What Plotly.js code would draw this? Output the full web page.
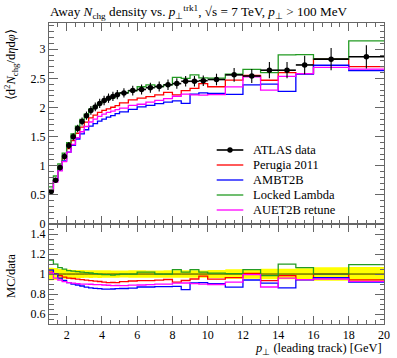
<!DOCTYPE html>
<html><head><meta charset="utf-8">
<script src="https://cdn.plot.ly/plotly-3.0.1.min.js"></script>
<style>html,body{margin:0;padding:0;background:#fff;} #plot{width:397px;height:358px;}</style>
</head><body><div id="plot"></div>
<script>
// Bin edges (GeV) of leading-track pT
const binEdges = [1,1.25,1.5,1.75,2,2.25,2.5,2.75,3,3.25,3.5,3.75,4,4.25,4.5,4.75,5,
  5.5,6,6.5,7,7.5,8,8.5,9,9.5,10,11,12,13,14,15,16,18,20];
// ATLAS data
const atlasData = [0.56,0.75,0.97,1.16,1.35,1.50,1.64,1.76,1.86,1.95,2.01,2.07,2.12,2.16,2.19,2.22,
  2.25,2.29,2.31,2.34,2.36,2.39,2.41,2.45,2.45,2.46,2.48,2.56,2.54,2.64,2.64,2.73,2.83,2.87];
const atlasErr = [0.035,0.045,0.05,0.055,0.06,0.06,0.065,0.07,0.07,0.075,0.075,0.08,0.08,0.08,0.08,0.08,
  0.08,0.085,0.085,0.085,0.085,0.09,0.09,0.09,0.09,0.09,0.1,0.12,0.12,0.14,0.14,0.16,0.19,0.2];
// MC predictions
const perugia2011 = [0.571,0.75,0.955,1.125,1.296,1.433,1.558,1.663,1.748,1.823,1.869,1.915,1.950,1.976,2.004,2.031,
  2.081,2.130,2.160,2.188,2.218,2.259,2.217,2.291,2.328,2.411,2.356,2.470,2.553,2.468,2.60,2.580,2.83,2.70];
const ambt2b = [0.582,0.75,0.931,1.085,1.235,1.35,1.460,1.549,1.618,1.681,1.723,1.766,1.802,1.836,1.862,1.894,
  1.924,1.969,2.010,2.036,2.065,2.091,2.114,2.070,2.230,2.251,2.244,2.227,2.388,2.402,2.276,2.572,2.725,2.635];
const lockedLambda = [0.638,0.825,1.033,1.218,1.397,1.545,1.681,1.795,1.888,1.970,2.020,2.070,2.109,2.149,2.168,2.209,
  2.25,2.29,2.356,2.387,2.36,2.39,2.518,2.499,2.560,2.509,2.505,2.573,2.654,2.600,2.904,2.907,2.83,3.143];
const auet2bRetune = [0.566,0.72,0.912,1.073,1.235,1.365,1.484,1.584,1.674,1.751,1.799,1.849,1.887,1.918,1.938,1.965,
  1.991,2.038,2.056,2.094,2.124,2.151,2.193,2.230,2.217,2.214,2.220,2.355,2.527,2.297,2.534,2.580,2.689,2.660];
const seriesNames = ['ATLAS data','Perugia 2011','AMBT2B','Locked Lambda','AUET2B retune'];
const seriesColors = ['#000000','#ff0000','#0000ff','#239b23','#ff00ff'];
const yTicksMain = [0,0.5,1,1.5,2,2.5,3];
const yTicksRatio = [0.6,0.8,1,1.2,1.4];
const xTicks = [2,4,6,8,10,12,14,16,18,20];

const FONT = 'Liberation Serif, Times New Roman, serif';
const centers = atlasData.map((_, i) => (binEdges[i] + binEdges[i+1]) / 2);
const halfW = atlasData.map((_, i) => (binEdges[i+1] - binEdges[i]) / 2);
const stepY = v => v.concat([v[v.length-1]]);
const mcSets = [perugia2011, ambt2b, lockedLambda, auet2bRetune];

const traces = [];
// main panel MC
mcSets.forEach((mc, k) => {
  traces.push({x: binEdges, y: stepY(mc), xaxis:'x', yaxis:'y', mode:'lines',
    line:{shape:'hv', color: seriesColors[k+1], width:1.3}, name: seriesNames[k+1], showlegend:false, hoverinfo:'skip'});
});
// data
traces.push({x: centers, y: atlasData, xaxis:'x', yaxis:'y', mode:'markers',
  marker:{color:'#000', size:5.5},
  error_y:{type:'data', array: atlasErr, color:'#000', thickness:1.1, width:0},
  error_x:{type:'data', array: halfW, color:'#000', thickness:1.6, width:0},
  showlegend:false, hoverinfo:'skip'});
// ratio band
const lo = atlasData.map((d, i) => 1 - atlasErr[i]/d);
const hi = atlasData.map((d, i) => 1 + atlasErr[i]/d);
traces.push({x: binEdges, y: stepY(lo), xaxis:'x2', yaxis:'y2', mode:'lines', line:{shape:'hv', width:0, color:'rgba(0,0,0,0)'}, showlegend:false, hoverinfo:'skip'});
traces.push({x: binEdges, y: stepY(hi), xaxis:'x2', yaxis:'y2', mode:'lines', fill:'tonexty', fillcolor:'#ffff00', line:{shape:'hv', width:0, color:'rgba(0,0,0,0)'}, showlegend:false, hoverinfo:'skip'});
traces.push({x: binEdges, y: stepY(atlasData.map(() => 1)), xaxis:'x2', yaxis:'y2', mode:'lines', line:{shape:'hv', width:0.8, color:'#000'}, showlegend:false, hoverinfo:'skip'});
mcSets.forEach((mc, k) => {
  traces.push({x: binEdges, y: stepY(mc.map((v, i) => v / atlasData[i])), xaxis:'x2', yaxis:'y2', mode:'lines',
    line:{shape:'hv', color: seriesColors[k+1], width:1.3}, showlegend:false, hoverinfo:'skip'});
});

// hand-built legend (paper coordinates)
const PW = 335, PH = 301; // plot area size in px
const legX0 = (216.7 - 49) / PW, legX1 = (243.3 - 49) / PW, legTx = (250.5 - 49) / PW;
const legRowsPx = [150, 165, 180, 195, 210];
const shapes = [], annotations = [];
seriesNames.forEach((nm, k) => {
  const yy = (324 - legRowsPx[k]) / PH;
  shapes.push({type:'line', xref:'paper', yref:'paper', x0:legX0, x1:legX1, y0:yy, y1:yy,
    line:{color: seriesColors[k], width: k === 0 ? 1.6 : 1.3}});
  if (k === 0) {
    const xc = (legX0 + legX1) / 2, rx = 2.7 / PW, ry = 2.7 / PH;
    shapes.push({type:'circle', xref:'paper', yref:'paper', x0:xc-rx, x1:xc+rx, y0:yy-ry, y1:yy+ry,
      fillcolor:'#000', line:{color:'#000', width:0}});
  }
  annotations.push({text: nm, xref:'paper', yref:'paper', x:legTx, y:yy, xanchor:'left', yanchor:'middle',
    showarrow:false, font:{family:FONT, size:12.5, color:'#000'}});
});

const axBase = {showline:true, linecolor:'#666', linewidth:1, mirror:'allticks', ticks:'inside',
  tickcolor:'#666', showgrid:false, zeroline:false, tickfont:{family:FONT, size:12, color:'#000'}};
const split = 0.332;
annotations.push(
  {text:'⟨d<sup>2</sup><i>N</i><sub>chg</sub>/d<i>η</i>d<i>φ</i>⟩', xref:'paper', yref:'paper', x:-0.113, y:0.985,
    xanchor:'center', yanchor:'top', textangle:-90, showarrow:false, font:{family:FONT, size:12.5}},
  {text:'MC/data', xref:'paper', yref:'paper', x:-0.113, y:0.16, xanchor:'center', yanchor:'middle', textangle:-90,
    showarrow:false, font:{family:FONT, size:12.5}},
  {text:'<i>p</i><sub>⊥</sub> (leading track) [GeV]', xref:'paper', yref:'paper', x:1, y:-0.083, xanchor:'right', yanchor:'middle',
    showarrow:false, font:{family:FONT, size:12.5}}
);
const layout = {
  width:397, height:358, margin:{l:49, r:13, t:23, b:34}, paper_bgcolor:'#fff', plot_bgcolor:'rgba(0,0,0,0)',
  font:{family:FONT, size:12, color:'#000'},
  title:{text:'Away <i>N</i><sub>chg</sub> density vs. <i>p</i><sub>⊥</sub><sup>trk1</sup>, √s = 7 TeV, <i>p</i><sub>⊥</sub> > 100 MeV',
    x:0.126, xanchor:'left', xref:'container', y:0.968, yanchor:'middle', font:{family:FONT, size:13.2, color:'#000'}},
  xaxis: Object.assign({}, axBase, {anchor:'y', domain:[0,1], range:[1,20], tickvals:xTicks, showticklabels:false, ticklen:8,
    minor:{dtick:0.5, tick0:0, ticklen:4, ticks:'inside', tickcolor:'#666'}}),
  yaxis: Object.assign({}, axBase, {anchor:'x', domain:[split,1], range:[0,3.45], tickvals:yTicksMain, ticklen:9,
    minor:{dtick:0.1, tick0:0, ticklen:4.5, ticks:'inside', tickcolor:'#666'}}),
  xaxis2: Object.assign({}, axBase, {anchor:'y2', domain:[0,1], range:[1,20], tickvals:xTicks, ticklen:8,
    minor:{dtick:0.5, tick0:0, ticklen:4, ticks:'inside', tickcolor:'#666'}}),
  yaxis2: Object.assign({}, axBase, {anchor:'x2', domain:[0,split], range:[0.5,1.5], tickvals:yTicksRatio, ticklen:9,
    minor:{dtick:0.05, tick0:0, ticklen:4.5, ticks:'inside', tickcolor:'#666'}}),
  showlegend:false,
  shapes: shapes,
  annotations: annotations
};
Plotly.newPlot('plot', traces, layout, {staticPlot:true, displayModeBar:false});
</script>
</body></html>
